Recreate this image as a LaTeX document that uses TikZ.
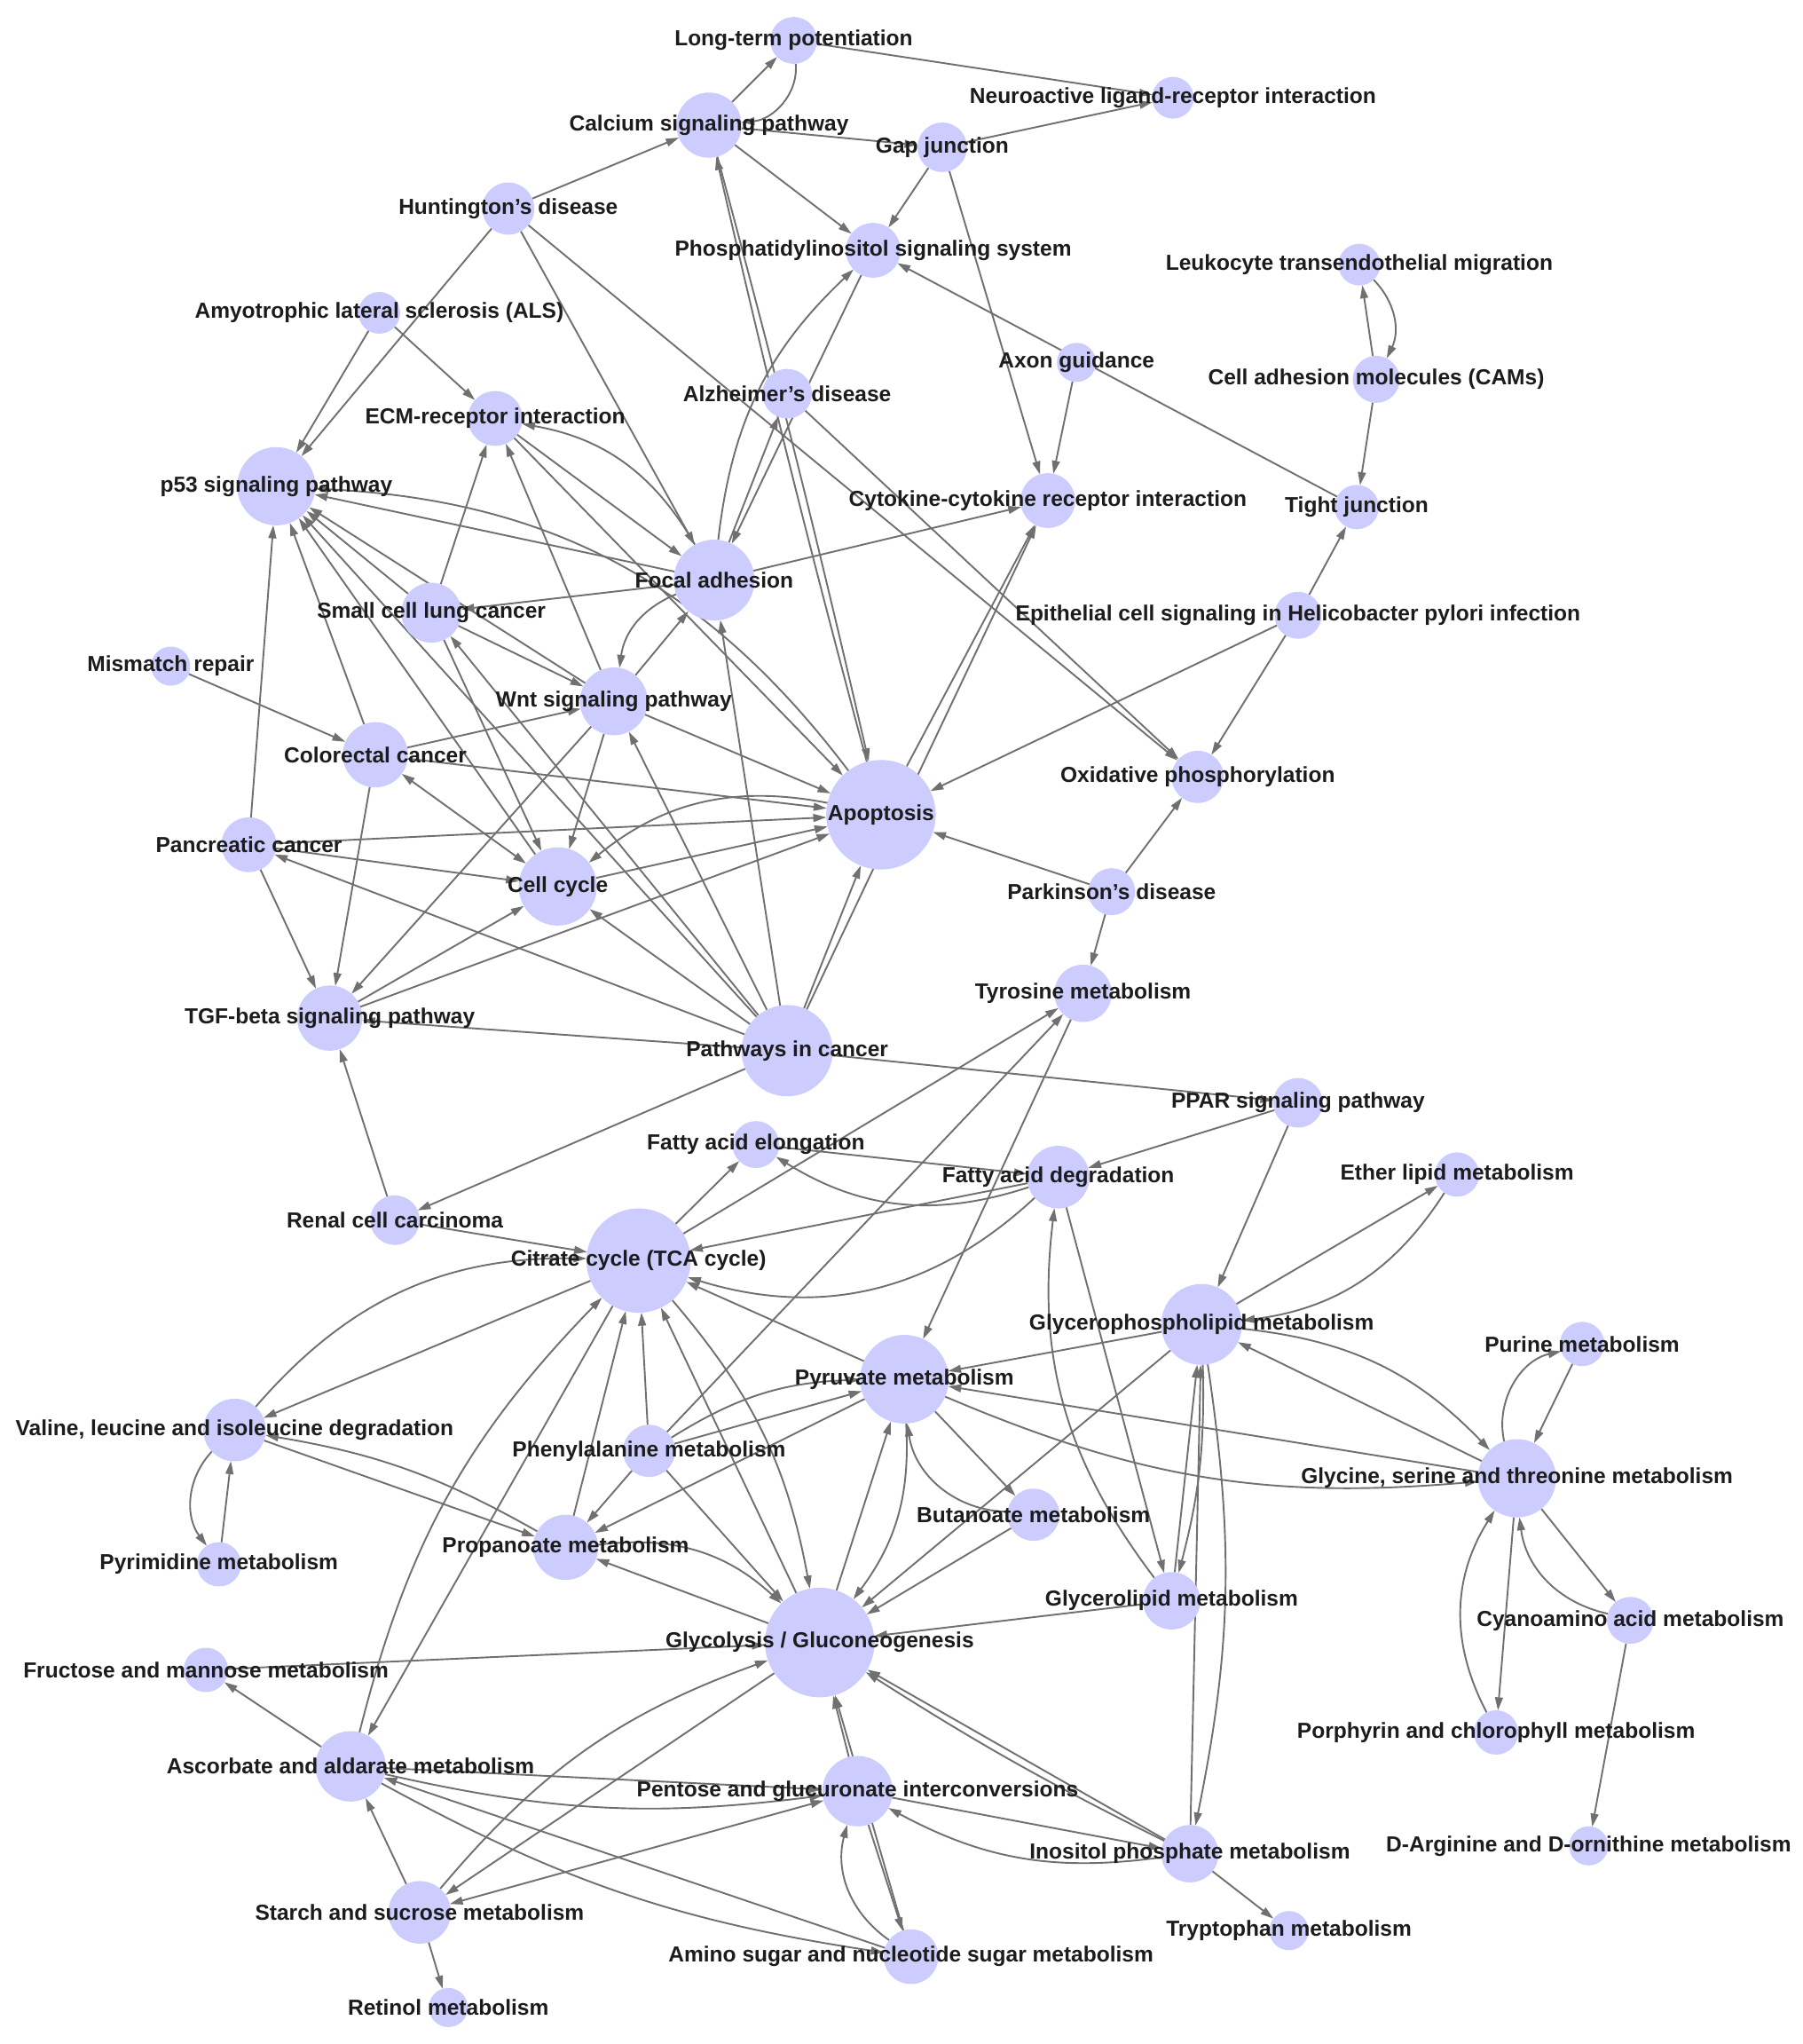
\documentclass[tikz,border=0pt]{standalone}
\usepackage{fontspec}
\setmainfont{Liberation Sans}
\usetikzlibrary{arrows.meta}
\pgfdeclarelayer{bg}
\pgfdeclarelayer{fg}
\pgfsetlayers{bg,main,fg}
\definecolor{nodec}{RGB}{204,204,255}
\definecolor{edgec}{RGB}{112,112,112}
\definecolor{txtc}{RGB}{28,28,28}
\tikzset{
  nd/.style={circle, fill=nodec, draw=none, inner sep=0pt, outer sep=0pt, minimum size=#1},
  lbl/.style={font=\fontsize{8.35}{10}\selectfont\bfseries, text=txtc, inner sep=0pt},
  ed/.style={-{Triangle[length=5pt,width=3pt]}, draw=edgec, line width=0.65pt},
  bd/.style={{Triangle[length=5pt,width=3pt]}-{Triangle[length=5pt,width=3pt]}, draw=edgec, line width=0.65pt}
}
\newcommand\mynode[5]{\node[nd=#4pt] (#1) at (#2,#3) {};
  \begin{pgfonlayer}{fg}\node[lbl] (#1L) at (#2,#3) {#5};\end{pgfonlayer}}
\begin{document}
\begin{tikzpicture}[x=0.5pt,y=-0.5pt]
\useasboundingbox (0,0) rectangle (1383,1568);
\begin{pgfonlayer}{bg}\fill[white] (0,0) rectangle (1383,1568);\end{pgfonlayer}
% nodes
\mynode{LTP}{609}{31}{18}{Long-term potentiation}
\mynode{NLR}{900}{75}{16}{Neuroactive ligand-receptor interaction}
\mynode{CSP}{544}{96}{25}{Calcium signaling pathway}
\mynode{GAP}{723}{113}{19}{Gap junction}
\mynode{HUN}{390}{160}{20}{Huntington's disease}
\mynode{PHO}{670}{192}{21}{Phosphatidylinositol signaling system}
\mynode{LEU}{1043}{203}{16}{Leukocyte transendothelial migration}
\mynode{ALS}{291}{240}{16}{Amyotrophic lateral sclerosis (ALS)}
\mynode{AXO}{826}{278}{15}{Axon guidance}
\mynode{CAM}{1056}{291}{18}{Cell adhesion molecules (CAMs)}
\mynode{ALZ}{604}{302}{19}{Alzheimer's disease}
\mynode{ECM}{380}{321}{21}{ECM-receptor interaction}
\mynode{P53}{212}{373}{30}{p53 signaling pathway}
\mynode{CYT}{804}{384}{21}{Cytokine-cytokine receptor interaction}
\mynode{TJ}{1041}{389}{17}{Tight junction}
\mynode{FOC}{548}{445}{31}{Focal adhesion}
\mynode{SCL}{331}{470}{23}{Small cell lung cancer}
\mynode{EPI}{996}{472}{18}{Epithelial cell signaling in Helicobacter pylori infection}
\mynode{MMR}{131}{511}{15}{Mismatch repair}
\mynode{WNT}{471}{538}{26}{Wnt signaling pathway}
\mynode{COL}{288}{579}{25}{Colorectal cancer}
\mynode{OXP}{919}{596}{20}{Oxidative phosphorylation}
\mynode{APO}{676}{625}{42}{Apoptosis}
\mynode{PAN}{191}{648}{21}{Pancreatic cancer}
\mynode{CC}{428}{680}{30}{Cell cycle}
\mynode{PARK}{853}{684}{18}{Parkinson's disease}
\mynode{TYR}{831}{762}{22}{Tyrosine metabolism}
\mynode{TGF}{253}{781}{25}{TGF-beta signaling pathway}
\mynode{PIC}{604}{806}{35}{Pathways in cancer}
\mynode{PPAR}{996}{846}{19}{PPAR signaling pathway}
\mynode{FAE}{580}{878}{18}{Fatty acid elongation}
\mynode{FAD}{812}{903}{24}{Fatty acid degradation}
\mynode{ETH}{1118}{901}{17}{Ether lipid metabolism}
\mynode{RCC}{303}{936}{19}{Renal cell carcinoma}
\mynode{TCA}{490}{967}{40}{Citrate cycle (TCA cycle)}
\mynode{GPL}{922}{1016}{31}{Glycerophospholipid metabolism}
\mynode{PUR}{1214}{1031}{17}{Purine metabolism}
\mynode{PYR}{694}{1058}{34}{Pyruvate metabolism}
\mynode{VAL}{180}{1097}{24}{Valine, leucine and isoleucine degradation}
\mynode{PHE}{498}{1113}{20}{Phenylalanine metabolism}
\mynode{GLY}{1164}{1134}{30}{Glycine, serine and threonine metabolism}
\mynode{BUT}{793}{1162}{20}{Butanoate metabolism}
\mynode{PYRI}{168}{1200}{17}{Pyrimidine metabolism}
\mynode{PRO}{434}{1187}{25}{Propanoate metabolism}
\mynode{GLL}{899}{1228}{22}{Glycerolipid metabolism}
\mynode{CYA}{1251}{1243}{18}{Cyanoamino acid metabolism}
\mynode{GLU}{629}{1260}{42}{Glycolysis / Gluconeogenesis}
\mynode{FRU}{158}{1281}{17}{Fructose and mannose metabolism}
\mynode{POR}{1148}{1329}{17}{Porphyrin and chlorophyll metabolism}
\mynode{ASC}{269}{1355}{27}{Ascorbate and aldarate metabolism}
\mynode{PEN}{658}{1374}{27}{Pentose and glucuronate interconversions}
\mynode{INO}{913}{1422}{22}{Inositol phosphate metabolism}
\mynode{DARG}{1219}{1416}{15}{D-Arginine and D-ornithine metabolism}
\mynode{STA}{322}{1467}{24}{Starch and sucrose metabolism}
\mynode{TRP}{989}{1481}{15}{Tryptophan metabolism}
\mynode{AMI}{699}{1501}{21}{Amino sugar and nucleotide sugar metabolism}
\mynode{RET}{344}{1540}{15}{Retinol metabolism}
% edges
\begin{pgfonlayer}{bg}
\draw[ed] (CSP) -- (LTP);
\draw[ed] (LTP) to[out=-85, in=5] (CSP);
\draw[ed] (LTP) -- (NLR);
\draw[ed] (GAP) -- (NLR);
\draw[ed] (CSP) -- (GAP);
\draw[ed] (CSP) -- (PHO);
\draw[ed] (GAP) -- (PHO);
\draw[ed] (GAP) -- (CYT);
\draw[ed] (AXO) -- (CYT);
\draw[ed] (TJ) -- (PHO);
\draw[ed] (HUN) -- (CSP);
\draw[ed] (HUN) -- (P53);
\draw[ed] (ALS) -- (P53);
\draw[ed] (ALS) -- (ECM);
\draw[ed] (HUN) -- (FOC);
\draw[ed] (HUN) -- (OXP);
\draw[ed] (ALZ) -- (OXP);
\draw[ed] (FOC) -- (CYT);
\draw[ed] (APO) -- (CYT);
\draw[ed] (PIC) -- (CYT);
\draw[ed] (CSP) to[bend left=1] (APO);
\draw[ed] (APO) to[bend left=1] (CSP);
\draw[ed] (FOC) to[bend left=20] (PHO);
\draw[ed] (PHO) -- (FOC);
\draw[ed] (FOC) -- (ALZ);
\draw[ed] (CAM) -- (LEU);
\draw[ed] (LEU) to[bend left=35] (CAM);
\draw[ed] (CAM) -- (TJ);
\draw[ed] (EPI) -- (TJ);
\draw[ed] (EPI) -- (OXP);
\draw[ed] (EPI) -- (APO);
\draw[ed] (PARK) -- (OXP);
\draw[ed] (PARK) -- (APO);
\draw[ed] (PARK) -- (TYR);
\draw[ed] (SCL) -- (ECM);
\draw[ed] (WNT) -- (ECM);
\draw[ed] (ECM) -- (APO);
\draw[ed] (FOC) to[bend right=25] (ECM);
\draw[ed] (ECM) -- (FOC);
\draw[ed] (SCL) -- (P53);
\draw[ed] (SCL) -- (CC);
\draw[ed] (SCL) -- (WNT);
\draw[ed] (FOC) -- (SCL);
\draw[ed] (PIC) -- (SCL);
\draw[ed] (WNT) -- (P53);
\draw[ed] (WNT) -- (FOC);
\draw[ed] (FOC) to[bend right=30] (WNT);
\draw[ed] (WNT) -- (APO);
\draw[ed] (WNT) -- (CC);
\draw[ed] (WNT) -- (TGF);
\draw[ed] (COL) -- (WNT);
\draw[ed] (PIC) -- (WNT);
\draw[ed] (MMR) -- (COL);
\draw[ed] (COL) -- (P53);
\draw[ed] (COL) -- (APO);
\draw[bd] (COL) -- (CC);
\draw[ed] (COL) -- (TGF);
\draw[ed] (PAN) -- (P53);
\draw[ed] (PAN) -- (APO);
\draw[ed] (PAN) -- (CC);
\draw[ed] (PAN) -- (TGF);
\draw[ed] (PIC) -- (PAN);
\draw[ed] (CC) -- (P53);
\draw[ed] (CC) -- (APO);
\draw[ed] (APO) to[bend right=25] (CC);
\draw[ed] (TGF) -- (CC);
\draw[ed] (PIC) -- (CC);
\draw[ed] (TGF) -- (APO);
\draw[ed] (RCC) -- (TGF);
\draw[ed] (PIC) -- (TGF);
\draw[ed] (PIC) -- (APO);
\draw[ed] (PIC) -- (FOC);
\draw[ed] (PIC) -- (P53);
\draw[ed] (PIC) -- (RCC);
\draw[ed] (PIC) -- (PPAR);
\draw[ed] (FOC) -- (P53);
\draw[ed] (APO) to[bend right=25] (P53);
\draw[ed] (TYR) -- (PYR);
\draw[ed] (TCA) -- (TYR);
\draw[ed] (PHE) -- (TYR);
\draw[ed] (PPAR) -- (FAD);
\draw[ed] (PPAR) -- (GPL);
\draw[ed] (TCA) -- (FAE);
\draw[ed] (FAE) -- (FAD);
\draw[ed] (FAD) to[bend left=25] (FAE);
\draw[ed] (FAD) -- (TCA);
\draw[ed] (FAD) to[bend left=30] (TCA);
\draw[ed] (GLL) to[bend left=22] (FAD);
\draw[ed] (FAD) -- (GLL);
\draw[ed] (GPL) -- (ETH);
\draw[ed] (ETH) to[bend left=25] (GPL);
\draw[ed] (GPL) -- (PYR);
\draw[ed] (GPL) to[bend left=20] (GLY);
\draw[ed] (GLY) -- (GPL);
\draw[ed] (GLL) -- (GPL);
\draw[ed] (GPL) to[bend left=8] (GLL);
\draw[ed] (INO) -- (GPL);
\draw[ed] (GPL) to[bend left=10] (INO);
\draw[ed] (GPL) -- (GLU);
\draw[ed] (GLY) -- (PYR);
\draw[ed] (PYR) to[bend right=14] (GLY);
\draw[ed] (PUR) -- (GLY);
\draw[ed] (GLY) to[bend left=45] (PUR);
\draw[ed] (GLY) -- (CYA);
\draw[ed] (CYA) to[bend left=35] (GLY);
\draw[ed] (GLY) -- (POR);
\draw[ed] (POR) to[bend left=30] (GLY);
\draw[ed] (CYA) -- (DARG);
\draw[ed] (PYR) -- (TCA);
\draw[ed] (PYR) -- (BUT);
\draw[ed] (BUT) to[bend left=40] (PYR);
\draw[ed] (PYR) to[bend left=20] (GLU);
\draw[ed] (GLU) -- (PYR);
\draw[ed] (PHE) -- (PYR);
\draw[ed] (PHE) to[bend left=15] (PYR);
\draw[ed] (PYR) -- (PRO);
\draw[ed] (RCC) -- (TCA);
\draw[ed] (TCA) -- (VAL);
\draw[ed] (VAL) to[bend left=25] (TCA);
\draw[ed] (VAL) -- (PRO);
\draw[ed] (PRO) to[bend right=10] (VAL);
\draw[ed] (VAL) to[bend right=40] (PYRI);
\draw[ed] (PYRI) -- (VAL);
\draw[ed] (PRO) -- (TCA);
\draw[ed] (ASC) to[bend left=15] (TCA);
\draw[ed] (TCA) -- (ASC);
\draw[ed] (TCA) to[bend left=15] (GLU);
\draw[ed] (GLU) -- (TCA);
\draw[ed] (PHE) -- (TCA);
\draw[ed] (PHE) -- (PRO);
\draw[ed] (PHE) -- (GLU);
\draw[ed] (GLU) -- (PRO);
\draw[ed] (PRO) to[bend left=25] (GLU);
\draw[ed] (FRU) -- (GLU);
\draw[ed] (ASC) -- (FRU);
\draw[ed] (GLU) -- (STA);
\draw[ed] (STA) to[bend left=15] (GLU);
\draw[ed] (PEN) -- (GLU);
\draw[ed] (AMI) -- (GLU);
\draw[ed] (INO) -- (GLU);
\draw[ed] (INO) to[bend left=3] (GLU);
\draw[ed] (GLL) -- (GLU);
\draw[ed] (BUT) -- (GLU);
\draw[ed] (STA) -- (ASC);
\draw[ed] (STA) -- (RET);
\draw[ed] (ASC) -- (PEN);
\draw[ed] (ASC) to[bend right=10] (PEN);
\draw[ed] (AMI) -- (ASC);
\draw[ed] (ASC) to[bend right=10] (AMI);
\draw[bd] (STA) -- (PEN);
\draw[ed] (PEN) -- (AMI);
\draw[ed] (AMI) to[bend left=35] (PEN);
\draw[ed] (PEN) -- (INO);
\draw[ed] (INO) to[bend left=18] (PEN);
\draw[ed] (INO) -- (TRP);
\end{pgfonlayer}
\end{tikzpicture}
\end{document}
